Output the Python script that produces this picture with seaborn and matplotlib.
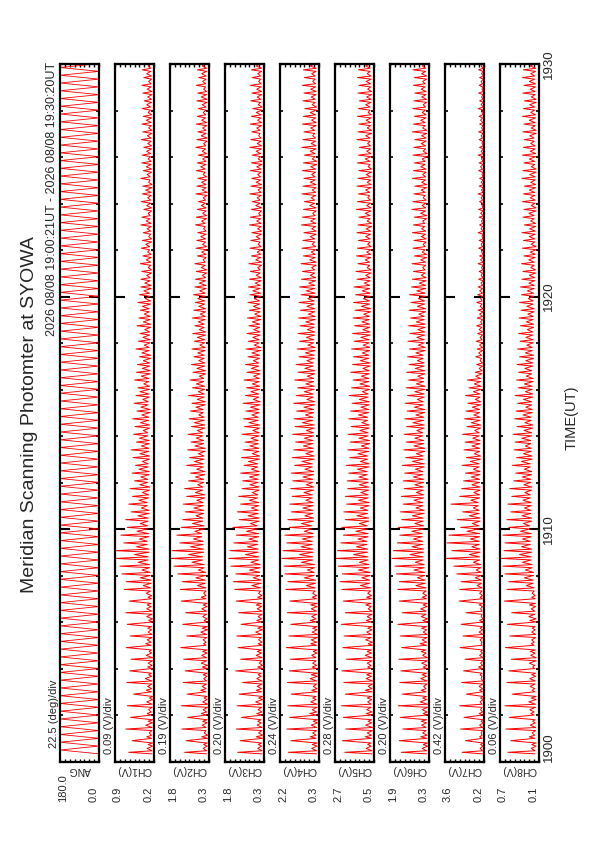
import numpy as np
import pandas as pd
import matplotlib
matplotlib.use("Agg")
import matplotlib.pyplot as plt
from matplotlib.ticker import MultipleLocator
import seaborn as sns

# Meridian scanning photometer, SYOWA, 2026-08-08 19:00:21 - 19:30:20 UT
# time in minutes after 19:00
START_MIN = 21 / 60
STROKE_MIN = 20 / 60   # channel samples: one block per 20 s
ANG_STEP_MIN = 10 / 60  # mirror sweeps 0 <-> 180 deg every 10 s

# scan angle turning points (deg)
ang_deg = [0, 180, 0, 180, 0, 180, 0, 180, 0, 180,
           0, 180, 0, 180, 0, 180, 0, 180, 0, 180,
           0, 180, 0, 180, 0, 180, 0, 180, 0, 180,
           0, 180, 0, 180, 0, 180, 0, 180, 0, 180,
           0, 180, 0, 180, 0, 180, 0, 180, 0, 180,
           0, 180, 0, 180, 0, 180, 0, 180, 0, 180,
           0, 180, 0, 180, 0, 180, 0, 180, 0, 180,
           0, 180, 0, 180, 0, 180, 0, 180, 0, 180,
           0, 180, 0, 180, 0, 180, 0, 180, 0, 180,
           0, 180, 0, 180, 0, 180, 0, 180, 0, 180,
           0, 180, 0, 180, 0, 180, 0, 180, 0, 180,
           0, 180, 0, 180, 0, 180, 0, 180, 0, 180,
           0, 180, 0, 180, 0, 180, 0, 180, 0, 180,
           0, 180, 0, 180, 0, 180, 0, 180, 0, 180,
           0, 180, 0, 180, 0, 180, 0, 180, 0, 180,
           0, 180, 0, 180, 0, 180, 0, 180, 0, 180,
           0, 180, 0, 180, 0, 180, 0, 180, 0, 180,
           0, 180, 0, 180, 0, 180, 0, 180, 0, 180,
           0]

channels = ["CH1", "CH2", "CH3", "CH4", "CH5", "CH6", "CH7", "CH8"]
ch_lo = [0.2, 0.3, 0.3, 0.3, 0.5, 0.3, 0.2, 0.1]
ch_hi = [0.9, 1.8, 1.8, 2.2, 2.7, 1.9, 3.6, 0.7]
lo_labels = ["0.0", "0.2", "0.3", "0.3", "0.3", "0.5", "0.3", "0.2", "0.1"]
hi_labels = ["180.0", "0.9", "1.8", "1.8", "2.2", "2.7", "1.9", "3.6", "0.7"]
div_labels = ["22.5 (deg)/div", "0.09 (V)/div", "0.19 (V)/div", "0.20 (V)/div",
              "0.24 (V)/div", "0.28 (V)/div", "0.20 (V)/div", "0.42 (V)/div",
              "0.06 (V)/div"]
time_ticks = [0, 10, 20, 30]
time_labels = ["1900", "1910", "1920", "1930"]

# per 20 s block: floor level, and two spikes (first, second); tenths of a division
ch1_floor = [4, 3, 5, 4, 3, 6, 4, 3, 5, 4, 5, 4, 3, 5, 6, 4, 5, 3, 4, 6, 5,
             7, 6, 8, 9, 12, 10,
             14, 11, 13, 12, 10, 14, 11, 9,
             13, 10, 12, 9, 11, 10, 13, 9, 11, 8, 12, 10, 9, 11, 8, 9, 7, 10, 8, 9, 7, 8, 10, 7, 9, 6,
             8, 5, 7, 6, 9, 5, 7, 6, 8, 5, 7, 6, 4, 8, 5, 6, 7, 5, 6, 4, 6, 5, 7, 5, 4, 6, 5, 7, 5]
ch1_peak = [52, 14, 12, 45, 15, 10,
            58, 17, 12, 48, 14, 11,
            55, 15, 9, 42, 16, 13,
            56, 18, 11, 50, 13, 12,
            47, 16, 10, 57, 17, 14,
            49, 12, 13, 55, 11, 15,
            58, 15, 14, 51, 12, 16,
            61, 22, 57, 28, 66, 25, 70, 33, 80, 40, 79, 36,
            62, 30, 68, 35, 55, 28, 58, 33, 47, 26, 52, 31, 44, 24, 49, 29,
            40, 27, 45, 31, 38, 24, 43, 29, 47, 26, 36, 30, 42, 22, 39, 28, 44, 25, 35, 27,
            41, 23, 37, 29, 33, 21, 40, 26, 36, 24, 34, 22, 30, 25, 37, 20, 32, 23, 29, 19,
            35, 22, 31, 20, 28, 24, 33, 18, 30, 21, 27, 19,
            27, 15, 25, 12, 28, 16, 23, 13, 26, 17, 24, 11, 22, 14, 27, 16, 25, 12, 21, 15,
            26, 13, 24, 17, 23, 11, 27, 14, 22, 16, 25, 12, 24, 15, 21, 13, 26, 14, 23, 11,
            25, 16, 22, 12, 24, 15, 20, 13, 23, 14, 25, 11, 21, 15, 24, 12, 22, 14]

ch2_floor = [5, 4, 3, 6, 4, 5, 3, 4, 6, 5, 4, 3, 5, 4, 6, 5, 3, 4, 5, 4, 6,
             6, 8, 7, 10, 13, 11,
             12, 15, 10, 13, 11, 12, 9, 13,
             11, 9, 12, 10, 8, 11, 13, 9, 10, 12, 8, 10, 9, 11, 7, 9, 10, 8, 9, 7, 10, 8, 7, 9, 8, 6,
             7, 5, 8, 6, 5, 7, 6, 8, 5, 6, 7, 4, 6, 5, 8, 6, 5, 7, 4, 6, 5, 7, 6, 4, 5, 7, 6, 5, 6]
ch2_peak = [50, 12, 11, 47, 15, 10,
            56, 14, 13, 44, 16, 12,
            57, 13, 10, 45, 17, 14,
            53, 11, 12, 49, 14, 16,
            52, 15, 13, 58, 11, 12,
            46, 17, 14, 54, 10, 13,
            48, 15, 12, 57, 16, 11,
            59, 24, 55, 27, 64, 22, 72, 35, 80, 42, 76, 38,
            60, 32, 66, 29, 57, 34, 54, 27, 49, 31, 53, 25, 46, 28, 50, 23,
            42, 28, 38, 25, 46, 30, 40, 22, 44, 29, 37, 26, 43, 24, 36, 30, 41, 21, 38, 27,
            35, 24, 42, 22, 34, 26, 39, 20, 33, 25, 36, 21, 31, 23, 35, 19, 30, 24, 33, 20,
            29, 22, 34, 18, 31, 21, 28, 23, 32, 19, 29, 20,
            28, 14, 26, 16, 29, 12, 24, 15, 27, 13, 25, 17, 23, 11, 28, 15, 26, 13, 24, 16,
            22, 12, 27, 14, 25, 15, 23, 12, 26, 17, 24, 13, 22, 14, 27, 11, 25, 16, 23, 13,
            26, 15, 24, 12, 22, 14, 25, 16, 23, 11, 26, 13, 21, 15, 24, 14, 23, 12]

ch3_floor = [4, 5, 3, 4, 6, 4, 5, 3, 5, 4, 6, 3, 4, 5, 4, 6, 3, 5, 4, 5, 4,
             7, 6, 9, 8, 11, 12,
             13, 11, 14, 10, 12, 11, 13, 10,
             12, 10, 13, 9, 11, 12, 10, 9, 12, 10, 8, 11, 9, 10, 8, 11, 9, 7, 10, 8, 9, 7, 8, 9, 7, 8,
             6, 8, 5, 7, 6, 8, 5, 6, 7, 5, 8, 6, 5, 7, 6, 4, 7, 5, 6, 8, 5, 6, 4, 7, 5, 6, 7, 5, 6]
ch3_peak = [54, 13, 12, 49, 16, 11,
            57, 14, 13, 46, 15, 12,
            55, 17, 11, 51, 16, 14,
            44, 15, 12, 58, 13, 10,
            48, 16, 14, 53, 12, 11,
            56, 17, 13, 47, 15, 12,
            52, 14, 16, 57, 13, 11,
            60, 25, 63, 22, 58, 30, 68, 27, 72, 38, 70, 34,
            62, 31, 57, 36, 64, 28, 51, 33, 55, 26, 48, 30, 52, 24, 45, 29,
            44, 30, 48, 26, 41, 32, 46, 24, 43, 29, 39, 27, 45, 23, 40, 31, 42, 25, 37, 28,
            43, 22, 38, 27, 36, 24, 41, 21, 35, 26, 38, 22, 33, 25, 37, 20, 32, 23, 35, 21,
            31, 24, 34, 19, 30, 22, 33, 20, 29, 23, 32, 18,
            30, 16, 28, 13, 31, 17, 26, 14, 29, 12, 27, 16, 25, 13, 30, 15, 28, 11, 26, 17,
            24, 14, 29, 12, 27, 16, 25, 13, 28, 15, 26, 12, 24, 16, 29, 14, 27, 11, 25, 15,
            28, 13, 26, 16, 23, 12, 27, 14, 25, 15, 28, 11, 24, 13, 26, 16, 25, 12]

ch4_floor = [5, 4, 6, 5, 3, 5, 4, 6, 4, 5, 3, 5, 6, 4, 5, 3, 4, 6, 5, 4, 5,
             8, 7, 10, 9, 13, 12,
             14, 12, 15, 11, 13, 12, 14, 11,
             13, 11, 14, 10, 12, 13, 11, 10, 13, 11, 9, 12, 10, 11, 9, 12, 10, 8, 11, 9, 10, 8, 9, 10, 8, 9,
             7, 9, 6, 8, 7, 9, 6, 7, 8, 6, 9, 7, 6, 8, 7, 5, 8, 6, 7, 9, 6, 7, 5, 8, 6, 7, 8, 6, 7]
ch4_peak = [63, 15, 14, 58, 18, 13,
            66, 16, 12, 60, 19, 14,
            64, 17, 13, 57, 15, 12,
            65, 18, 16, 61, 14, 13,
            59, 15, 12, 67, 17, 16,
            62, 14, 13, 58, 18, 15,
            65, 16, 17, 60, 14, 13,
            68, 26, 64, 30, 70, 24, 72, 36, 76, 40, 74, 37,
            66, 34, 70, 30, 61, 36, 64, 29, 57, 33, 60, 27, 55, 31, 58, 26,
            54, 33, 57, 29, 50, 35, 55, 27, 52, 32, 48, 30, 54, 26, 49, 34, 51, 28, 46, 31,
            52, 25, 47, 30, 44, 27, 50, 24, 43, 29, 47, 25, 41, 28, 45, 23, 40, 26, 43, 24,
            39, 27, 42, 22, 38, 25, 41, 23, 37, 26, 40, 21,
            36, 18, 34, 15, 37, 19, 32, 16, 35, 14, 33, 18, 31, 15, 36, 17, 34, 13, 32, 19,
            30, 16, 35, 14, 33, 18, 31, 15, 34, 17, 32, 14, 30, 18, 35, 16, 33, 13, 31, 17,
            34, 15, 32, 18, 29, 14, 33, 16, 31, 17, 34, 13, 30, 15, 32, 18, 31, 14]

ch5_floor = [4, 6, 5, 3, 5, 4, 6, 5, 4, 3, 5, 6, 4, 5, 3, 6, 4, 5, 4, 6, 5,
             7, 9, 8, 11, 12, 13,
             15, 12, 14, 11, 13, 10, 12, 11,
             12, 14, 10, 13, 11, 9, 12, 10, 13, 11, 10, 12, 9, 11, 10, 8, 11, 9, 10, 8, 9, 10, 7, 9, 8, 9,
             8, 6, 9, 7, 6, 8, 7, 5, 8, 6, 7, 9, 6, 7, 5, 8, 6, 7, 8, 5, 7, 6, 8, 6, 5, 7, 6, 8, 6]
ch5_peak = [60, 16, 13, 65, 18, 14,
            58, 17, 12, 63, 16, 15,
            67, 13, 14, 59, 18, 12,
            62, 16, 15, 66, 13, 14,
            57, 18, 14, 64, 12, 17,
            61, 15, 13, 67, 16, 14,
            59, 12, 17, 63, 15, 13,
            66, 28, 70, 25, 65, 32, 73, 30, 78, 42, 75, 36,
            68, 33, 63, 37, 66, 30, 59, 35, 62, 28, 56, 32, 59, 27, 54, 30,
            55, 31, 52, 34, 57, 28, 50, 33, 54, 26, 49, 31, 53, 29, 47, 25, 52, 32, 48, 27,
            45, 30, 51, 24, 46, 29, 43, 26, 48, 23, 44, 28, 42, 24, 46, 22, 41, 27, 44, 23,
            40, 25, 43, 21, 39, 26, 42, 22, 38, 24, 41, 20,
            35, 17, 37, 14, 33, 18, 36, 15, 34, 13, 32, 17, 35, 16, 33, 14, 31, 18, 36, 15,
            34, 13, 32, 17, 35, 14, 33, 16, 31, 12, 34, 18, 32, 15, 30, 13, 35, 17, 33, 14,
            31, 16, 34, 12, 32, 17, 30, 15, 33, 13, 31, 16, 34, 14, 32, 17, 30, 13]

ch6_floor = [5, 3, 4, 6, 5, 4, 3, 5, 6, 4, 5, 4, 3, 6, 5, 4, 5, 3, 6, 4, 5,
             6, 8, 9, 10, 12, 11,
             13, 14, 11, 12, 10, 13, 11, 12,
             11, 13, 10, 12, 9, 11, 13, 10, 11, 9, 12, 10, 8, 11, 9, 10, 12, 8, 10, 9, 8, 10, 7, 9, 8, 7,
             6, 8, 7, 5, 8, 6, 7, 9, 5, 7, 6, 8, 5, 7, 6, 8, 4, 7, 6, 5, 8, 6, 7, 5, 6, 8, 5, 7, 6]
ch6_peak = [57, 14, 12, 61, 17, 13,
            54, 15, 16, 59, 12, 14,
            63, 18, 13, 55, 16, 11,
            60, 17, 14, 58, 12, 15,
            62, 13, 16, 56, 18, 14,
            59, 12, 15, 64, 13, 16,
            55, 17, 12, 61, 14, 13,
            64, 27, 61, 24, 67, 31, 70, 28, 76, 39, 73, 35,
            65, 32, 60, 35, 63, 29, 56, 34, 59, 27, 53, 31, 57, 26, 51, 29,
            53, 32, 50, 28, 55, 34, 48, 26, 52, 31, 47, 29, 51, 25, 46, 33, 50, 27, 45, 30,
            49, 24, 44, 29, 47, 26, 42, 23, 46, 28, 41, 24, 44, 27, 40, 22, 43, 25, 39, 23,
            42, 26, 38, 21, 41, 24, 37, 22, 40, 25, 36, 20,
            34, 16, 32, 13, 35, 17, 30, 14, 33, 12, 31, 16, 34, 15, 32, 13, 30, 17, 35, 14,
            33, 12, 31, 16, 29, 15, 34, 13, 32, 17, 30, 14, 33, 12, 31, 16, 29, 15, 34, 13,
            32, 17, 30, 14, 33, 12, 31, 15, 29, 16, 32, 13, 30, 15, 33, 14, 31, 12]

ch7_floor = [3, 2, 4, 3, 2, 3, 4, 2, 3, 2, 4, 3, 2, 3, 4, 2, 3, 2, 4, 3, 3,
             4, 5, 6, 7, 9, 8,
             10, 9, 11, 8, 10, 12, 9, 8,
             9, 8, 10, 7, 9, 8, 10, 7, 8, 9, 7, 8, 6, 7, 4, 3, 5, 3, 4, 3, 4, 3, 2, 4, 3, 3,
             2, 3, 2, 1, 3, 2, 2, 3, 1, 2, 3, 2, 1, 2, 3, 2, 2, 1, 3, 2, 2, 3, 1, 2, 2, 3, 1, 2, 2]
ch7_peak = [45, 8, 7, 38, 9, 6,
            48, 9, 6, 41, 10, 7,
            50, 8, 7, 36, 9, 10,
            46, 6, 8, 42, 11, 7,
            39, 9, 7, 49, 6, 8,
            43, 10, 8, 47, 9, 6,
            37, 7, 10, 51, 8, 9,
            50, 14, 47, 18, 56, 16, 62, 22, 80, 30, 66, 25,
            76, 28, 72, 35, 48, 24, 55, 30, 44, 22, 68, 27, 50, 21, 46, 25,
            42, 26, 38, 22, 45, 28, 36, 20, 41, 25, 39, 23, 44, 19, 35, 26, 40, 21, 37, 24,
            33, 18, 38, 22, 31, 20, 34, 17, 18, 10, 15, 8, 17, 11, 14, 9, 16, 8, 13, 10,
            15, 7, 14, 9, 12, 8, 15, 7, 13, 9, 12, 6,
            11, 6, 10, 5, 12, 7, 9, 5, 11, 6, 10, 4, 12, 6, 9, 5, 10, 7, 11, 4,
            9, 6, 12, 5, 10, 6, 9, 4, 11, 7, 10, 5, 12, 6, 9, 4, 10, 6, 11, 5,
            9, 7, 10, 4, 12, 6, 9, 5, 11, 4, 10, 6, 9, 5, 11, 6, 10, 4]

ch8_floor = [8, 6, 9, 7, 8, 10, 7, 6, 9, 8, 7, 9, 6, 8, 10, 7, 8, 6, 9, 7, 8,
             10, 12, 11, 14, 16, 15,
             18, 16, 19, 15, 17, 16, 18, 15,
             17, 15, 18, 14, 16, 17, 15, 13, 16, 14, 15, 13, 14, 12, 15, 13, 11, 14, 12, 13, 11, 12, 10, 12, 11, 10,
             9, 7, 10, 8, 6, 9, 8, 7, 10, 6, 8, 9, 7, 8, 6, 9, 7, 8, 10, 6, 8, 7, 9, 6, 8, 7, 9, 7, 8]
ch8_peak = [64, 16, 15, 58, 20, 14,
            68, 18, 13, 61, 17, 19,
            70, 21, 16, 55, 14, 18,
            66, 19, 15, 62, 13, 20,
            57, 17, 18, 69, 16, 15,
            60, 15, 14, 65, 19, 21,
            56, 16, 20, 71, 15, 14,
            66, 26, 62, 30, 70, 28, 74, 34, 78, 40, 72, 36,
            70, 34, 74, 38, 62, 32, 66, 35, 58, 30, 64, 33, 56, 29, 60, 31,
            52, 34, 48, 30, 55, 36, 46, 32, 51, 28, 49, 35, 53, 31, 45, 29, 50, 33, 47, 27,
            44, 32, 49, 28, 43, 30, 46, 26, 42, 29, 45, 27, 40, 28, 44, 25, 39, 27, 42, 24,
            38, 26, 41, 23, 37, 25, 40, 22, 36, 24, 38, 21,
            35, 20, 33, 17, 36, 21, 31, 18, 34, 16, 32, 20, 35, 19, 30, 17, 33, 21, 31, 16,
            34, 18, 32, 20, 30, 17, 35, 19, 33, 16, 31, 20, 34, 18, 32, 17, 30, 19, 33, 16,
            31, 20, 34, 17, 32, 19, 30, 16, 33, 18, 31, 20, 34, 17, 32, 18, 30, 16]

ch_floors = [ch1_floor, ch2_floor, ch3_floor, ch4_floor, ch5_floor, ch6_floor, ch7_floor, ch8_floor]
ch_peaks = [ch1_peak, ch2_peak, ch3_peak, ch4_peak, ch5_peak, ch6_peak, ch7_peak, ch8_peak]


def channel_trace(floors, peaks, lo, hi):
    per_div = (hi - lo) / 8
    n = min(len(floors), len(peaks) // 2)
    t, v = [], []
    for i in range(n):
        t0 = START_MIN + i * STROKE_MIN
        f = lo + floors[i] / 10 * per_div
        t += [t0, t0 + 0.2 * STROKE_MIN, t0 + 0.4 * STROKE_MIN, t0 + 0.7 * STROKE_MIN]
        v += [f, lo + peaks[2 * i] / 10 * per_div, f, lo + peaks[2 * i + 1] / 10 * per_div]
    return pd.DataFrame({"time": t, "value": v})


sns.set_style("ticks")
plt.rcParams["font.family"] = ["Liberation Sans", "DejaVu Sans"]

W, H = 595, 842
fig = plt.figure(figsize=(W / 100, H / 100), dpi=100)
fig.patch.set_facecolor("white")

TOP, BOT = 64, 762
names = ["ANG"] + channels
los = [0.0] + ch_lo
his = [180.0] + ch_hi

for k in range(9):
    left = 60 + 55 * k
    right = left + 39
    ax = fig.add_axes([left / W, 1 - BOT / H, (right - left) / W, (BOT - TOP) / H])
    if k == 0:
        df = pd.DataFrame({"time": [START_MIN + i * ANG_STEP_MIN for i in range(len(ang_deg))],
                           "value": ang_deg})
        lw = 0.6
    else:
        df = channel_trace(ch_floors[k - 1], ch_peaks[k - 1], los[k], his[k])
        lw = 0.7
    sns.lineplot(data=df, x="value", y="time", sort=False, estimator=None,
                 color="#ff0000", linewidth=lw, ax=ax)
    ax.set_xlim(his[k], los[k])
    ax.set_ylim(0, 30)
    ax.set_xlabel("")
    ax.set_ylabel("")
    ax.set_facecolor("white")
    for sp in ax.spines.values():
        sp.set_visible(True)
        sp.set_color("black")
        sp.set_linewidth(1.6)

    ax.set_xticks(np.linspace(los[k], his[k], 9))
    ax.set_yticks(time_ticks)
    ax.yaxis.set_minor_locator(MultipleLocator(2))
    ax.tick_params(axis="x", which="both", direction="in", top=True, bottom=True,
                   length=2.5, width=1.0, color="black", labelbottom=False, labeltop=False)
    ax.tick_params(axis="y", which="major", direction="in", left=True, right=True,
                   length=7, width=1.5, color="black")
    ax.tick_params(axis="y", which="minor", direction="in", left=True, right=True,
                   length=2.5, width=1.2, color="black")
    if k == 8:
        ax.set_yticklabels(time_labels, rotation=90, fontsize=9.5)
        ax.tick_params(axis="y", labelleft=False, labelright=True, pad=3)
        for lab in ax.get_yticklabels():
            lab.set_va("center")
        ax.get_yticklabels()[0].set_va("bottom")
    else:
        ax.tick_params(axis="y", labelleft=False, labelright=False)

    cx = (left + right) / 2
    fig.text((left - 6) / W, 1 - (748 if k == 0 else 754) / H, div_labels[k], rotation=90,
             ha="center", va="bottom", fontsize=8)
    fig.text(cx / W, 1 - 765 / H, names[k] if k == 0 else names[k] + "(V)",
             rotation=180, ha="center", va="top", fontsize=7.5)
    fig.text((left + 3) / W, 1 - 802 / H, hi_labels[k], rotation=90,
             ha="center", va="bottom", fontsize=8)
    fig.text((right - 5) / W, 1 - 802 / H, lo_labels[k], rotation=90,
             ha="center", va="bottom", fontsize=8)

fig.text(30 / W, 1 - 415 / H, "Meridian Scanning Photomter at SYOWA", rotation=90,
         ha="center", va="center", fontsize=14)
fig.text(52 / W, 1 - 62 / H, "2026 08/08 19:00:21UT - 2026 08/08 19:30:20UT",
         rotation=90, ha="center", va="top", fontsize=9)
fig.text(572 / W, 1 - 418 / H, "TIME(UT)", rotation=90, ha="center", va="center",
         fontsize=10.5)

fig.savefig("out.png", dpi=100)
